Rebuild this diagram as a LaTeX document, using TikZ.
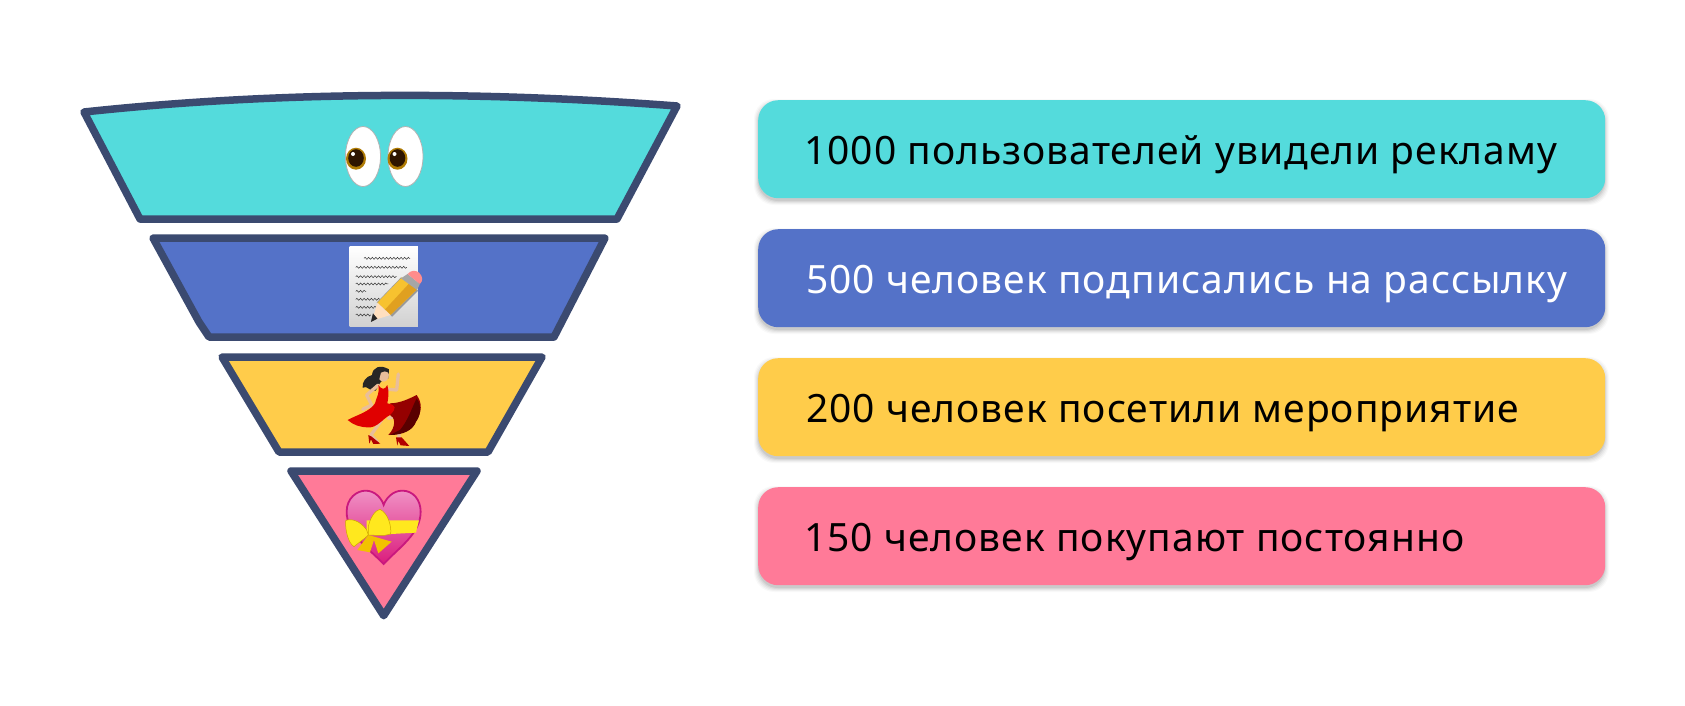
\documentclass[tikz,border=0pt]{standalone}
\usepackage{fontspec}
\setmainfont[LetterSpace=2.6]{Noto Sans}
\usetikzlibrary{decorations.pathmorphing}
\definecolor{cCyan}{HTML}{54DBDC}
\definecolor{cBlue}{HTML}{5472C8}
\definecolor{cYel}{HTML}{FFCC4A}
\definecolor{cPink}{HTML}{FF7A98}
\definecolor{cLine}{HTML}{3B4A70}
\definecolor{cSkin}{HTML}{E9BE9A}
\definecolor{hTop}{HTML}{F090C4}
\definecolor{hMid}{HTML}{E63C98}
\definecolor{hBot}{HTML}{DB1C7C}
\definecolor{hEdge}{HTML}{C9187E}
\definecolor{bowA}{HTML}{FFE81E}
\definecolor{bowB}{HTML}{F2C200}
\definecolor{irisC}{HTML}{B07C05}
\definecolor{pupC}{HTML}{2E1500}
\definecolor{pencilA}{HTML}{F7C22F}
\definecolor{pencilB}{HTML}{E0A020}
\tikzset{
  funnel/.style={draw=cLine,line width=7.5pt,line join=round},
  barbox/.style={rectangle,rounded corners=20pt,minimum width=847pt,minimum height=98pt,inner sep=0pt,anchor=north west},
  bartext/.style={inner sep=0pt,anchor=base west,font=\fontsize{39}{46}\selectfont},
  scribble/.style={draw=black!80,line width=.5pt,decorate,decoration={snake,amplitude=1pt,segment length=3.6pt}},
  limb/.style={cSkin,line width=3.3pt,line cap=round,line join=round}
}
\newcommand{\softshadow}[2]{%
  \foreach \g/\o in {4/.025,3/.035,2/.045,1/.055,0/.07}{%
    \fill[black,opacity=\o,rounded corners=20pt] (#1-\g,#2+3-\g) rectangle ++(847+2*\g,98+2*\g);}}
\begin{document}
\begin{tikzpicture}[x=1pt,y=-1pt]
\useasboundingbox (0,0) rectangle (1685,705);
% funnel
\path[funnel,fill=cCyan] (84,112) .. controls (280,91) and (480,91) .. (677,106) -- (617,219) -- (140,219) -- cycle;
\path[funnel,fill=cBlue] (153,238) -- (605,238) -- (554,337) -- (209,337) -- (199,322) -- cycle;
\path[funnel,fill=cYel] (222,357) -- (542,357) -- (488,452) -- (279,452) -- cycle;
\path[funnel,fill=cPink] (291,471) -- (477,471) -- (383.7,615.7) -- cycle;
% eyes
\foreach \cx/\px in {363/356,405.5/397.5}{
  \fill[white,draw=black!30,line width=.8pt] (\cx,156.5) ellipse [x radius=17.5,y radius=30];
  \fill[irisC] (\px,158.7) ellipse [x radius=10,y radius=11];
  \fill[pupC] (\px,158) ellipse [x radius=7.8,y radius=8.8];
  \fill[white] (\px-3,154) circle (2);
}
% note with pencil
\begin{scope}[shift={(60,80)},x=.408pt,y=-.3333pt]
  \shade[top color=white,bottom color=black!18] (710,500) rectangle (877,740);
  \draw[scribble] (745,535) -- (858,535);
  \draw[scribble] (725,562) -- (850,562);
  \draw[scribble] (725,590) -- (825,590);
  \draw[scribble] (725,612) -- (805,612);
  \draw[scribble] (725,634) -- (750,634);
  \draw[scribble] (725,658) -- (785,658);
  \draw[scribble] (725,682) -- (775,682);
  \draw[scribble] (725,705) -- (762,705);
  \fill[black!40] (776,668) -- (836,592) -- (878,632) -- (814,710) -- cycle;
  \fill[pencilA] (778,668) -- (838,592) -- (875,628) -- (810,705) -- cycle;
  \fill[pencilB] (797,688) -- (856,610) -- (875,628) -- (810,705) -- cycle;
  \fill[orange!25!white] (778,668) -- (810,705) -- (765,722) -- cycle;
  \fill[black!85] (767,700) -- (778,716) -- (762,726) -- cycle;
  \fill[black!35] (836,595) -- (852,582) -- (882,612) -- (875,630) -- cycle;
  \fill[red!45!white] (852,582) .. controls (860,570) and (872,570) .. (880,578) .. controls (890,590) and (890,603) .. (882,612) -- cycle;
\end{scope}
% dancer and heart
\begin{scope}[shift={(200,340)},x=.3333pt,y=-.3333pt]
  % hair
  \fill[black!85] (567,88) .. controls (540,72) and (518,82) .. (516,105) .. controls (498,110) and (486,125) .. (488,143) .. controls (505,135) and (505,155) .. (527,152) .. controls (540,135) and (540,115) .. (565,115) -- cycle;
  % head, arms
  \fill[cSkin] (543,98) .. controls (560,88) and (570,100) .. (566,112) .. controls (560,128) and (545,128) .. (538,118) -- cycle;
  \draw[limb] (535,135) -- (500,165) -- (515,195) -- (488,208);
  \draw[limb] (565,148) -- (590,150) -- (595,102);
  % legs
  \draw[limb] (545,240) -- (513,285) -- (532,306);
  \draw[limb] (565,235) -- (595,225) -- (597,295);
  % dress
  \fill[black!35!red!90!black] (570,190) .. controls (600,190) and (630,175) .. (650,165) .. controls (668,190) and (665,215) .. (650,240) .. controls (640,270) and (600,285) .. (565,285) .. controls (590,260) and (585,230) .. (570,225) -- cycle;
  \fill[black!65!red] (600,270) .. controls (625,240) and (635,205) .. (650,175) .. controls (668,200) and (660,230) .. (648,245) .. controls (640,270) and (610,285) .. (570,285) -- cycle;
  \fill[red!88!black] (535,135) .. controls (545,150) and (555,150) .. (562,135) .. controls (568,155) and (565,175) .. (562,190) .. controls (590,195) and (590,205) .. (570,225) .. controls (550,235) and (530,265) .. (505,262) .. controls (480,262) and (460,255) .. (443,240) .. controls (470,225) and (510,215) .. (525,190) .. controls (530,170) and (540,160) .. (535,135) -- cycle;
  % shoes
  \fill[red!70!black] (505,285) -- (515,290) -- (541,311) -- (520,312) -- (513,298) -- (508,311) -- cycle;
  \fill[red!70!black] (588,292) -- (605,292) -- (628,318) -- (602,316) -- (595,303) -- (592,317) -- cycle;
  % heart
  \shade[top color=hTop,middle color=hMid,bottom color=hBot]
    (551,672) .. controls (500,620) and (440,580) .. (440,515) .. controls (440,475) and (470,452) .. (497,452) .. controls (525,452) and (545,475) .. (551,495) .. controls (558,475) and (578,452) .. (607,452) .. controls (640,452) and (662,480) .. (662,515) .. controls (662,580) and (600,620) .. (551,672) -- cycle;
  \draw[hEdge,line width=1.8pt] (551,672) .. controls (500,620) and (440,580) .. (440,515) .. controls (440,475) and (470,452) .. (497,452) .. controls (525,452) and (545,475) .. (551,495) .. controls (558,475) and (578,452) .. (607,452) .. controls (640,452) and (662,480) .. (662,515) .. controls (662,580) and (600,620) .. (551,672) -- cycle;
  \fill[bowA] (500,541) -- (657,541) -- (648,578) -- (500,586) -- cycle;
  \fill[bowB] (505,585) -- (575,605) -- (535,640) -- (522,600) -- (510,637) -- (472,630) -- cycle;
  \fill[bowA,draw=bowB!85!black,line width=.5pt] (500,570) .. controls (480,540) and (450,535) .. (437,542) .. controls (435,570) and (445,610) .. (462,620) .. controls (480,605) and (495,595) .. (505,585) -- cycle;
  \fill[bowA,draw=bowB!85!black,line width=.5pt] (505,560) .. controls (510,535) and (525,510) .. (540,508) .. controls (565,520) and (575,560) .. (572,582) .. controls (550,590) and (525,585) .. (505,585) -- cycle;
\end{scope}
% bars
\softshadow{758}{100}\softshadow{758}{229}\softshadow{758}{358}\softshadow{758}{487}
\node[barbox,fill=cCyan] (b1) at (758,100) {};
\node[barbox,fill=cBlue] (b2) at (758,229) {};
\node[barbox,fill=cYel] (b3) at (758,358) {};
\node[barbox,fill=cPink] (b4) at (758,487) {};
\node[bartext] (t1) at (804,164) {1000 пользователей увидели рекламу};
\node[bartext,text=white] (t2) at (806,293) {500 человек подписались на рассылку};
\node[bartext] (t3) at (806,422) {200 человек посетили мероприятие};
\node[bartext] (t4) at (804,551) {150 человек покупают постоянно};
\end{tikzpicture}
\end{document}
